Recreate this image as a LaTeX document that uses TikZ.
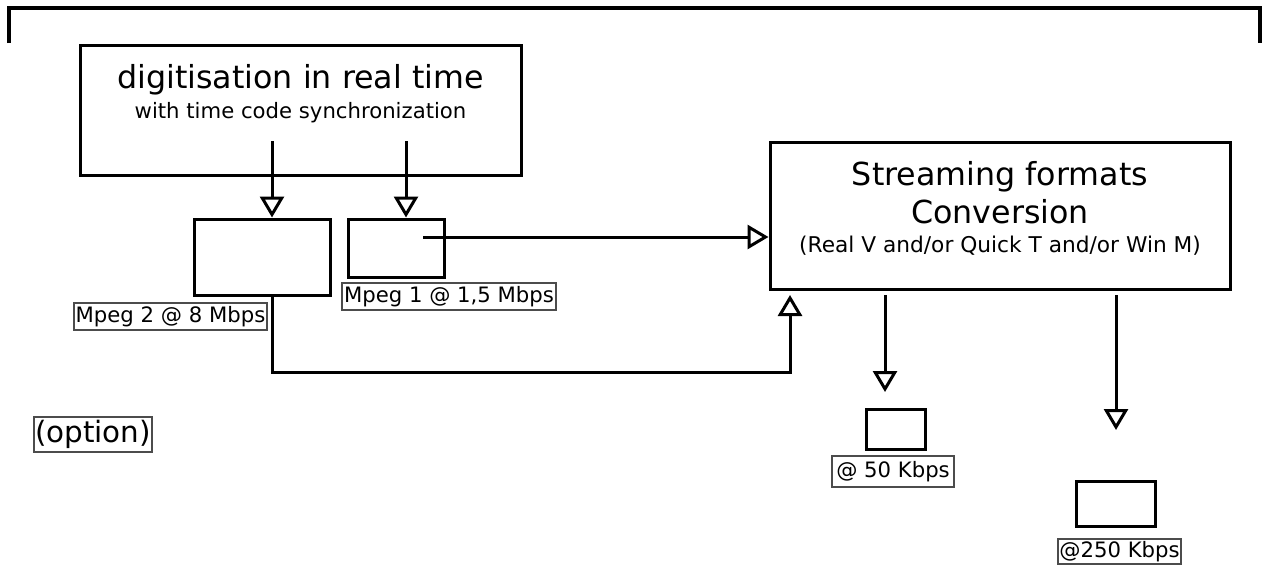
\documentclass[tikz,border=0pt]{standalone}
\usepackage{fontspec}
\setmainfont{DejaVu Sans}
\usetikzlibrary{arrows.meta}
\begin{document}
\begin{tikzpicture}[x=1pt,y=-1pt,
  box/.style={draw, line width=3pt, inner sep=0pt},
  lab/.style={draw=black!70, line width=1.3pt, inner sep=0pt,
    text height=17pt, text depth=5.5pt, font=\fontsize{21.2}{24}\selectfont},
  bigtxt/.style={anchor=base, inner sep=0pt, font=\fontsize{31.7}{36}\selectfont},
  smalltxt/.style={anchor=base, inner sep=0pt, font=\fontsize{21.2}{24}\selectfont},
  conn/.style={line width=3pt},
  hollow/.style={-{Triangle[open, length=21pt, width=24pt]}}
]
\useasboundingbox (0,0) rectangle (1263,565);

% top bracket
\coordinate (brL) at (9,43);
\coordinate (brTL) at (9,8);
\coordinate (brTR) at (1260,8);
\coordinate (brR) at (1260,43);
\draw[line width=3.8pt] (brL) -- (brTL) -- (brTR) -- (brR);

% boxes
\node[box, minimum width=441pt, minimum height=130pt] (dig) at (300.5,110) {};
\node[bigtxt] (digA) at (300.5,88) {digitisation in real time};
\node[smalltxt] (digB) at (300.5,118) {with time code synchronization};

\node[box, minimum width=136pt, minimum height=76pt] (b2) at (262,257) {};
\node[box, minimum width=96pt, minimum height=58pt] (b3) at (396,248) {};

\node[box, minimum width=460pt, minimum height=147pt] (b4) at (1000,215.5) {};
\node[bigtxt] (b4A) at (1000,185) {Streaming formats};
\node[bigtxt] (b4B) at (1000,223) {Conversion};
\node[smalltxt, font=\fontsize{21.7}{24}\selectfont] (b4C) at (1000,252) {(Real V and/or Quick T and/or Win M)};

\node[box, minimum width=59pt, minimum height=40pt] (b6) at (895.5,429) {};
\node[box, minimum width=79pt, minimum height=45pt] (b7) at (1115.5,503.5) {};

% labels
\node[lab, minimum width=214pt, minimum height=27pt] (l1) at (449,296.5) {Mpeg 1 @ 1,5 Mbps};
\node[lab, minimum width=193pt, minimum height=27pt] (l2) at (170.5,316.5) {Mpeg 2 @ 8 Mbps};
\node[lab, minimum width=122pt, minimum height=31pt] (l50) at (893,471.5) {@ 50 Kbps};
\node[lab, minimum width=123pt, minimum height=25pt] (l250) at (1119.5,551.5) {@250 Kbps};
\node[lab, minimum width=118pt, minimum height=35pt, text height=22pt, text depth=7pt,
  font=\fontsize{29.4}{32}\selectfont] (opt) at (93,434.5) {(option)};

% connectors
\coordinate (aS) at (272,141);
\coordinate (bS) at (406,141);
\coordinate (cS) at (423,237);
\coordinate (dK) at (790,372);
\coordinate (dE) at (790,295);
\coordinate (eS) at (885,295);
\coordinate (eE) at (885,392);
\coordinate (fS) at (1116,295);
\coordinate (fE) at (1116,430);

\draw[conn, hollow] (aS) -- (aS |- b2.north);
\draw[conn, hollow] (bS) -- (bS |- b3.north);
\draw[conn, hollow] (cS) -- (cS -| b4.west);
\draw[conn, hollow] (aS |- b2.south) |- (dK) -- (dE);
\draw[conn, hollow] (eS) -- (eE);
\draw[conn, hollow] (fS) -- (fE);
\end{tikzpicture}
\end{document}
